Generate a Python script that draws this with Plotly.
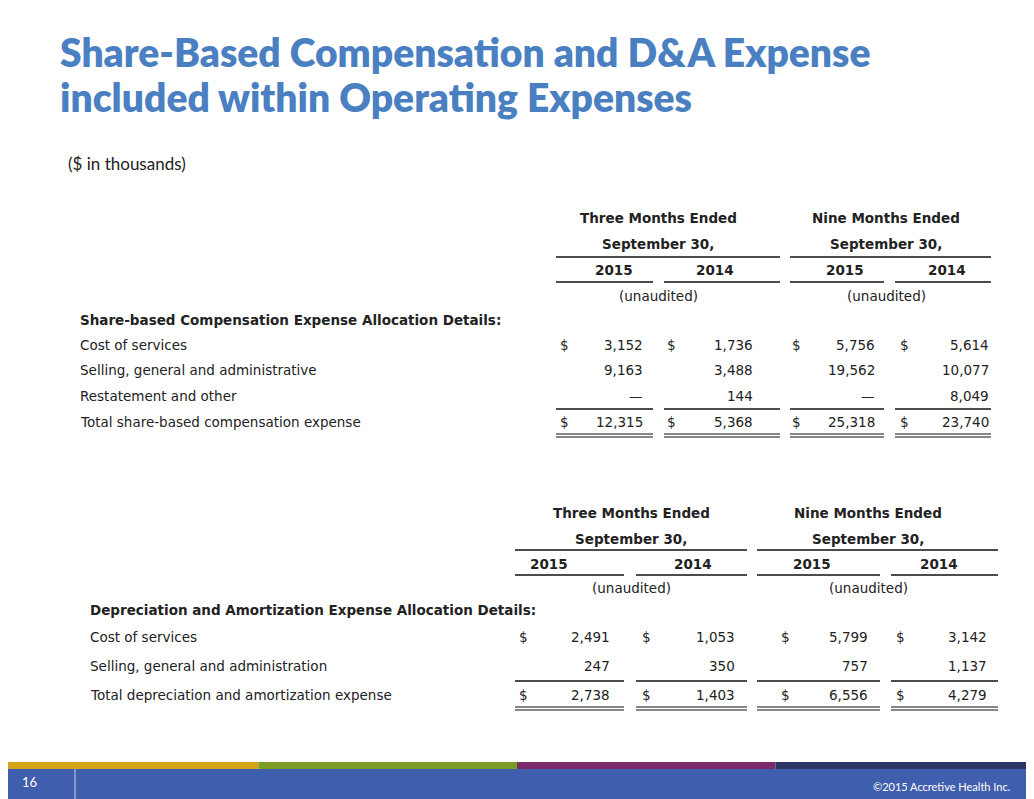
import plotly.graph_objects as go

title_lines = ["Share-Based Compensation and D&A Expense", "included within Operating Expenses"]
subtitle = "($ in thousands)"

col_groups = ["Three Months Ended", "Nine Months Ended"]
period = "September 30,"
years = ["2015", "2014", "2015", "2014"]

sbc_header = "Share-based Compensation Expense Allocation Details:"
sbc_rows = ["Cost of services", "Selling, general and administrative", "Restatement and other",
            "Total share-based compensation expense"]
sbc_vals = [["3,152", "1,736", "5,756", "5,614"],
            ["9,163", "3,488", "19,562", "10,077"],
            ["—", "144", "—", "8,049"],
            ["12,315", "5,368", "25,318", "23,740"]]

da_header = "Depreciation and Amortization Expense Allocation Details:"
da_rows = ["Cost of services", "Selling, general and administration",
           "Total depreciation and amortization expense"]
da_vals = [["2,491", "1,053", "5,799", "3,142"],
           ["247", "350", "757", "1,137"],
           ["2,738", "1,403", "6,556", "4,279"]]

W, H = 1034, 799
OFF = 8  # page body margin
FONT = "Lato, Open Sans, sans-serif"
TFONT = "DejaVu Sans, sans-serif"
TXT = "#222222"
fig = go.Figure()
ann, shapes = [], []


def text(x, y, s, size=13.5, anchor="left", color=TXT, bold=False, family=TFONT, weight=None):
    f = dict(size=size, color=color, family=family)
    if weight:
        f["weight"] = weight
    elif bold:
        f["weight"] = "bold"
    ann.append(dict(x=x, y=y, text=s, showarrow=False, xanchor=anchor, yanchor="middle", font=f))


def line(x0, x1, y, color="#111111", w=1.3):
    shapes.append(dict(type="line", x0=x0, x1=x1, y0=y, y1=y, line=dict(color=color, width=w)))


def table(t):
    for i, g in enumerate(col_groups):
        text(t["gc"][i], t["y0"], g, anchor="center", bold=True)
        text(t["gc"][i], t["y0"] + 26, period, anchor="center", bold=True)
        text(t["gc"][i], t["y0"] + t["unaud"], "(unaudited)", anchor="center")
        line(*t["gl"][i], t["y0"] + t["gline"])
    for j, yv in enumerate(years):
        text(t["yc"][j], t["y0"] + t["yr"], yv, anchor="center", bold=True)
        line(*t["seg"][j], t["y0"] + t["yline"])
    text(t["hx"], t["hy"], t["header"], bold=True)
    n = len(t["rows"])
    for r, (lab, vals) in enumerate(zip(t["rows"], t["vals"])):
        y = t["ry"][r]
        text(t["lx"], y, lab)
        for j, v in enumerate(vals):
            if r in (0, n - 1):
                text(t["dx"][j], y, "$")
            text(t["vx"][j], y, v, anchor="right")
    for j in range(4):
        line(*t["seg"][j], t["tline"])
        line(*t["seg"][j], t["dline"], w=1)
        line(*t["seg"][j], t["dline"] + 3, w=1)


table(dict(y0=218, gc=[658, 886], gl=[(556, 780), (790, 991)], gline=39, unaud=78,
           yc=[614, 715, 845, 947], yr=52, yline=64,
           seg=[(556, 653), (664, 780), (790, 884), (895, 991)],
           header=sbc_header, hx=78, hy=320, rows=sbc_rows, vals=sbc_vals,
           ry=[345, 370, 396, 422], lx=78, dx=[558, 665, 790, 898], vx=[645, 755, 877, 991],
           tline=409, dline=434))

table(dict(y0=513, gc=[631, 868], gl=[(515, 747), (757, 998)], gline=37, unaud=75,
           yc=[549, 693, 812, 939], yr=51, yline=62,
           seg=[(515, 624), (636, 747), (757, 880), (891, 998)],
           header=da_header, hx=88, hy=610, rows=da_rows, vals=da_vals,
           ry=[637, 666, 695], lx=88, dx=[517, 640, 779, 894], vx=[612, 737, 870, 989],
           tline=681, dline=707))

# title
for k, tl in enumerate(title_lines):
    text(58, 52 + 45 * k, tl, size=39, color="#4a7fc1", family=FONT, weight=800)
text(66, 163, subtitle, size=17, family=FONT)

# footer
strip = ["#d4a418", "#7c9c23", "#7b2a6b", "#2b3566"]
for i, c in enumerate(strip):
    shapes.append(dict(type="rect", x0=i * W / 4, x1=(i + 1) * W / 4, y0=762, y1=769,
                       fillcolor=c, line_width=0))
shapes.append(dict(type="rect", x0=0, x1=W + OFF, y0=769, y1=H + OFF, fillcolor="#3f5ead", line_width=0))
shapes.append(dict(type="line", x0=75, x1=75, y0=769, y1=H + OFF, line=dict(color="#c8d2ea", width=1)))
text(20, 782, "16", size=13, color="white", family=FONT)
text(1012, 786, "©2015 Accretive Health Inc.", size=11, color="white", anchor="right", family=FONT)

fig.update_layout(width=W, height=H, margin=dict(l=0, r=0, t=0, b=0),
                  paper_bgcolor="white", plot_bgcolor="white",
                  annotations=ann, shapes=shapes, showlegend=False)
fig.update_xaxes(range=[OFF, W + OFF], visible=False, fixedrange=True)
fig.update_yaxes(range=[H + OFF, OFF], visible=False, fixedrange=True)
fig.write_html("out.html")
